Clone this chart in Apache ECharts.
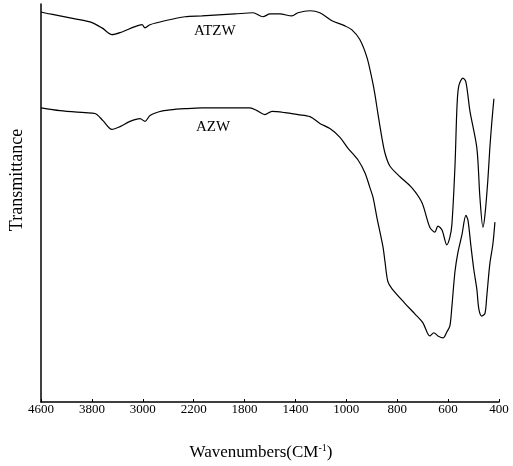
<!DOCTYPE html>
<html>
<head>
<meta charset="utf-8">
<script src="https://cdn.jsdelivr.net/npm/echarts@6/dist/echarts.min.js"></script>
<style>html,body{margin:0;padding:0;background:#fff;}#c{width:513px;height:466px;}</style>
</head>
<body>
<div id="c"></div>
<script>
// Tick labels of the (piecewise, break-scaled) wavenumber axis
var xTicks = [4600, 3800, 3000, 2200, 1800, 1400, 1000, 800, 600, 400];

// ATZW spectrum: wavenumber (cm-1) and relative transmittance
var atzwWn = [4600,4459,4144,3830,3641,3484,3358,3123,3012,2965,2887,2651,2337,2135,1876,1734,1656,1600,1522,1428,1380,1286,1208,1113,1011,978,947,919,899,888,876,860,848,829,789,742,703,672,652,640,624,605,593,585,573,565,558,542,530,514,487,475,463,455,444,436,428,420];
var atzwT  = [98.0,97.5,96.5,95.5,94.0,92.3,92.8,94.3,94.8,94.0,94.8,95.8,96.8,97.0,97.5,97.8,96.8,97.5,97.5,97.0,97.8,98.3,97.8,95.8,94.5,93.5,91.1,86.6,81.1,77.4,72.5,66.3,62.5,59.3,56.6,53.8,50.1,43.9,42.7,44.2,43.2,39.5,41.4,44.7,59.3,74.4,79.4,81.4,80.4,73.0,63.8,51.4,43.9,47.1,55.6,63.8,70.5,76.2];

// AZW spectrum
var azwWn = [4600,4301,3908,3751,3626,3484,3358,3201,3044,2965,2887,2730,2573,2337,2135,1758,1702,1640,1585,1482,1380,1286,1208,1129,1050,994,954,927,907,895,880,856,848,837,821,770,730,699,672,656,640,620,605,593,585,573,561,546,530,522,510,499,487,479,467,455,448,436,424,416];
var azwT  = [73.9,73.2,72.7,72.5,70.7,68.5,69.2,70.5,71.2,70.5,72.0,73.0,73.4,73.7,73.9,73.9,73.2,72.2,73.0,72.7,72.2,71.7,70.0,68.7,66.5,63.8,60.8,57.6,53.8,51.4,46.4,39.0,35.2,30.3,28.5,24.8,22.1,19.9,16.6,17.4,16.6,16.1,17.6,19.1,24.1,32.8,37.7,41.9,46.9,45.7,39.0,33.3,28.3,23.3,21.6,22.3,26.6,34.7,39.7,45.2];

var seriesNames = ['ATZW', 'AZW'];
var xName = 'Wavenumbers(CM';
var yName = 'Transmittance';

function toIdx(wn) {
  for (var i = 0; i < xTicks.length - 1; i++) {
    if (wn <= xTicks[i] && wn >= xTicks[i + 1]) {
      return i + (xTicks[i] - wn) / (xTicks[i] - xTicks[i + 1]);
    }
  }
  return wn > xTicks[0] ? 0 : xTicks.length - 1;
}
function build(wn, t) {
  return wn.map(function (w, k) { return [toIdx(w), t[k]]; });
}

var FONT = 'Liberation Serif';
var chart = echarts.init(document.getElementById('c'), null, {renderer: 'canvas'});
chart.setOption({
  animation: false,
  backgroundColor: '#fff',
  grid: {left: 41, right: 14, top: 4, bottom: 59, containLabel: false},
  xAxis: {
    type: 'value', min: 0, max: xTicks.length - 1, interval: 1,
    name: xName + '{sup|-1})',
    nameLocation: 'middle', nameGap: 41,
    nameTextStyle: {fontFamily: FONT, fontSize: 17, color: '#000', padding: [0, 18, 0, 0],
      rich: {sup: {fontFamily: FONT, fontSize: 10, color: '#000', verticalAlign: 'top', padding: [0, 0, 9, 0]}}},
    axisLine: {show: true, lineStyle: {color: '#000', width: 1.5}},
    axisTick: {show: true, inside: true, length: 3, lineStyle: {color: '#000', width: 1}},
    splitLine: {show: false},
    axisLabel: {margin: 1, fontFamily: FONT, fontSize: 13, color: '#000',
      formatter: function (v) { return xTicks[Math.round(v)]; }}
  },
  yAxis: {
    type: 'value', min: 0, max: 100,
    name: yName, nameLocation: 'middle', nameGap: 15,
    nameTextStyle: {fontFamily: FONT, fontSize: 18, color: '#000', padding: [0, 0, 0, 46]},
    axisLine: {show: true, lineStyle: {color: '#000', width: 1.5}},
    axisTick: {show: false}, axisLabel: {show: false}, splitLine: {show: false}
  },
  series: [
    {name: seriesNames[0], type: 'line', data: build(atzwWn, atzwT), showSymbol: false, smooth: 0.3,
      lineStyle: {color: '#000', width: 1.2}},
    {name: seriesNames[1], type: 'line', data: build(azwWn, azwT), showSymbol: false, smooth: 0.3,
      lineStyle: {color: '#000', width: 1.2}}
  ],
  graphic: [
    {type: 'text', left: 194, top: 24, style: {text: seriesNames[0], font: '15px "Liberation Serif"', fill: '#000'}},
    {type: 'text', left: 196, top: 120, style: {text: seriesNames[1], font: '15px "Liberation Serif"', fill: '#000'}}
  ]
});
</script>
</body>
</html>
